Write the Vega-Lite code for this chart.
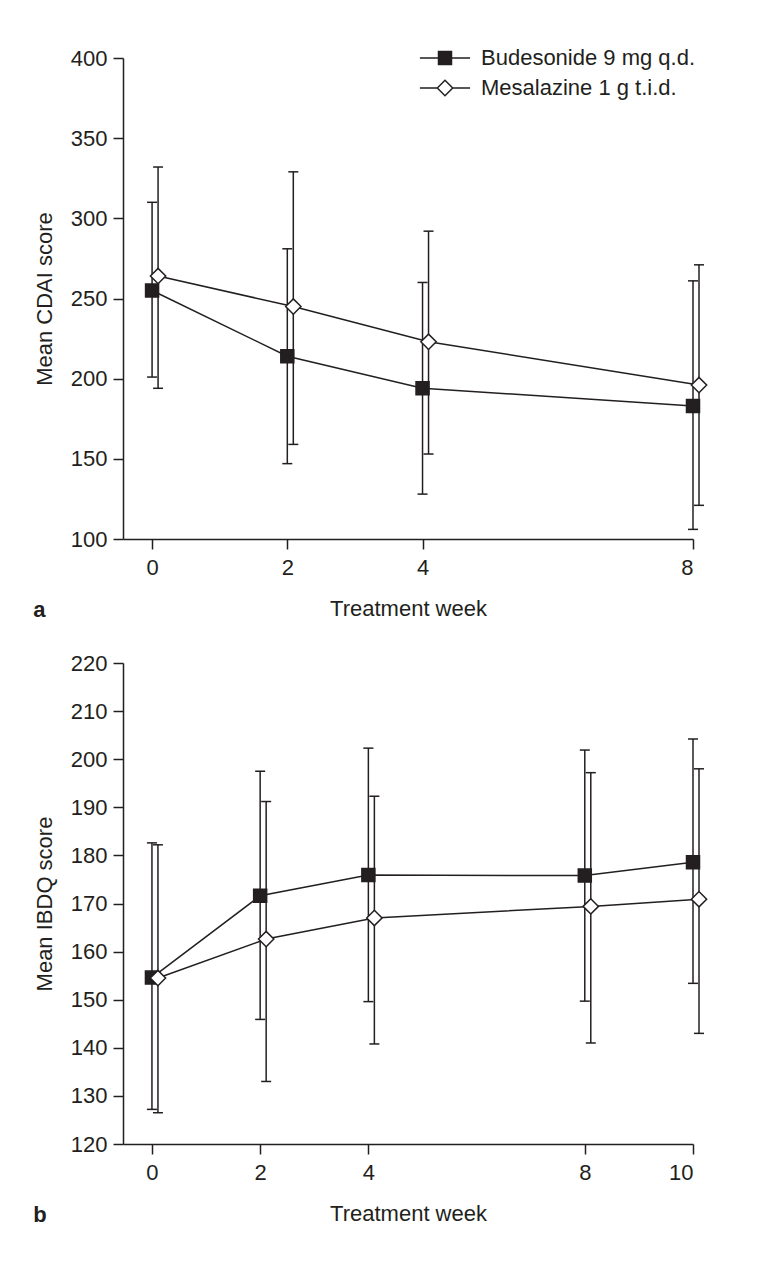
{
  "$schema": "https://vega.github.io/schema/vega-lite/v6.json",
  "background": "white",
  "padding": {"left": 33, "top": 47, "right": 10, "bottom": 10},
  "config": {
    "font": "Liberation Sans",
    "view": {"stroke": null},
    "axis": {
      "domainColor": "#231f20", "domainWidth": 1.5,
      "tickColor": "#231f20", "tickWidth": 1.5, "tickSize": 10,
      "labelFont": "Liberation Sans", "labelFontSize": 22, "labelColor": "#231f20", "labelPadding": 6,
      "titleFont": "Liberation Sans", "titleFontSize": 22, "titleFontWeight": "normal", "titleColor": "#231f20",
      "grid": false
    },
    "axisX": {"labelPadding": 8, "titlePadding": 20},
    "legend": {
      "labelFont": "Liberation Sans", "labelFontSize": 22, "labelColor": "#231f20", "labelLimit": 400,
      "symbolStrokeWidth": 1.5, "symbolOpacity": 1
    },
    "title": {"font": "Liberation Sans", "color": "#231f20"},
    "concat": {"spacing": 31}
  },
  "datasets": {
    "cdai": [
      {"week": 0, "group": "Budesonide 9 mg q.d.", "mean": 255, "lo": 201, "hi": 310},
      {"week": 2, "group": "Budesonide 9 mg q.d.", "mean": 214, "lo": 147, "hi": 281},
      {"week": 4, "group": "Budesonide 9 mg q.d.", "mean": 194, "lo": 128, "hi": 260},
      {"week": 8, "group": "Budesonide 9 mg q.d.", "mean": 183, "lo": 106, "hi": 261},
      {"week": 0, "group": "Mesalazine 1 g t.i.d.", "mean": 264, "lo": 194, "hi": 332},
      {"week": 2, "group": "Mesalazine 1 g t.i.d.", "mean": 245, "lo": 159, "hi": 329},
      {"week": 4, "group": "Mesalazine 1 g t.i.d.", "mean": 223, "lo": 153, "hi": 292},
      {"week": 8, "group": "Mesalazine 1 g t.i.d.", "mean": 196, "lo": 121, "hi": 271}
    ],
    "ibdq": [
      {"week": 0, "group": "Budesonide 9 mg q.d.", "mean": 154.6, "lo": 127.2, "hi": 182.6},
      {"week": 2, "group": "Budesonide 9 mg q.d.", "mean": 171.6, "lo": 145.9, "hi": 197.5},
      {"week": 4, "group": "Budesonide 9 mg q.d.", "mean": 175.9, "lo": 149.6, "hi": 202.3},
      {"week": 8, "group": "Budesonide 9 mg q.d.", "mean": 175.8, "lo": 149.7, "hi": 201.9},
      {"week": 10, "group": "Budesonide 9 mg q.d.", "mean": 178.6, "lo": 153.4, "hi": 204.2},
      {"week": 0, "group": "Mesalazine 1 g t.i.d.", "mean": 154.5, "lo": 126.5, "hi": 182.2},
      {"week": 2, "group": "Mesalazine 1 g t.i.d.", "mean": 162.6, "lo": 133, "hi": 191.2},
      {"week": 4, "group": "Mesalazine 1 g t.i.d.", "mean": 167, "lo": 140.8, "hi": 192.3},
      {"week": 8, "group": "Mesalazine 1 g t.i.d.", "mean": 169.4, "lo": 141, "hi": 197.2},
      {"week": 10, "group": "Mesalazine 1 g t.i.d.", "mean": 170.9, "lo": 143, "hi": 198}
    ]
  },
  "vconcat": [
    {
      "width": 570,
      "height": 481,
      "data": {"name": "cdai"},
      "title": {"text": "a", "orient": "bottom", "anchor": "start", "fontWeight": "bold", "fontSize": 22, "offset": -19},
      "encoding": {
        "x": {
          "field": "week", "type": "quantitative",
          "scale": {"domain": [-0.43, 8], "nice": false, "zero": false},
          "axis": {"values": [0, 2, 4, 8], "title": "Treatment week"}
        }
      },
      "layer": [
        {
          "mark": {"type": "rule", "color": "#231f20", "strokeWidth": 1.5, "xOffset": {"expr": "datum.group === 'Mesalazine 1 g t.i.d.' ? 6 : 0"}},
          "encoding": {
            "y": {"field": "lo", "type": "quantitative", "title": "Mean CDAI score",
                  "scale": {"domain": [100, 400], "nice": false, "zero": false},
                  "axis": {"values": [100, 150, 200, 250, 300, 350, 400], "titlePadding": 14}},
            "y2": {"field": "hi"}
          }
        },
        {
          "mark": {"type": "tick", "orient": "horizontal", "size": 10, "thickness": 1.5, "color": "#231f20", "opacity": 1, "xOffset": {"expr": "datum.group === 'Mesalazine 1 g t.i.d.' ? 6 : 0"}},
          "encoding": {"y": {"field": "hi", "type": "quantitative", "title": "Mean CDAI score"}}
        },
        {
          "mark": {"type": "tick", "orient": "horizontal", "size": 10, "thickness": 1.5, "color": "#231f20", "opacity": 1, "xOffset": {"expr": "datum.group === 'Mesalazine 1 g t.i.d.' ? 6 : 0"}},
          "encoding": {"y": {"field": "lo", "type": "quantitative", "title": "Mean CDAI score"}}
        },
        {
          "mark": {"type": "line", "color": "#231f20", "strokeWidth": 1.5, "xOffset": {"expr": "datum.group === 'Mesalazine 1 g t.i.d.' ? 6 : 0"}},
          "encoding": {
            "y": {"field": "mean", "type": "quantitative", "title": "Mean CDAI score"},
            "detail": {"field": "group"}
          }
        },
        {
          "transform": [{"filter": "datum.group === 'Budesonide 9 mg q.d.'"}],
          "mark": {"type": "point", "shape": "square", "filled": true, "size": 169, "fill": "#231f20", "stroke": "#231f20", "strokeWidth": 1.5, "opacity": 1},
          "encoding": {"y": {"field": "mean", "type": "quantitative", "title": "Mean CDAI score"}}
        },
        {
          "transform": [{"filter": "datum.group === 'Mesalazine 1 g t.i.d.'"}],
          "mark": {"type": "point", "shape": "M-1.18,0L0,-1.18L1.18,0L0,1.18Z", "filled": true, "size": 169, "fill": "white", "stroke": "#231f20", "strokeWidth": 1.5, "opacity": 1, "xOffset": 6},
          "encoding": {"y": {"field": "mean", "type": "quantitative", "title": "Mean CDAI score"}}
        },
        {
          "transform": [{"filter": "false"}],
          "mark": {"type": "point", "filled": true, "size": 169, "stroke": "#231f20", "strokeWidth": 1.5, "opacity": 1},
          "encoding": {
            "y": {"field": "mean", "type": "quantitative", "title": "Mean CDAI score"},
            "fill": {"field": "group", "type": "nominal",
                     "scale": {"domain": ["Budesonide 9 mg q.d.", "Mesalazine 1 g t.i.d."], "range": ["#231f20", "white"]},
                     "legend": {"orient": "none", "legendX": 311, "legendY": -11, "title": null, "labelOffset": 25, "rowPadding": 8, "symbolSize": 169,
                                "encoding": {"symbols": {"stroke": {"value": "#231f20"}, "strokeWidth": {"value": 1.5}}}}},
            "shape": {"field": "group", "type": "nominal",
                      "scale": {"domain": ["Budesonide 9 mg q.d.", "Mesalazine 1 g t.i.d."], "range": ["M-3.86,0H-1M1,0H3.86M-1,-1H1V1H-1Z", "M-3.86,0H-1.18M1.18,0H3.86M-1.18,0L0,-1.18L1.18,0L0,1.18Z"]},
                      "legend": {"orient": "none", "legendX": 311, "legendY": -11, "title": null, "labelOffset": 25, "rowPadding": 8, "symbolSize": 169,
                                 "encoding": {"symbols": {"stroke": {"value": "#231f20"}, "strokeWidth": {"value": 1.5}}}}}
          }
        }
      ]
    },
    {
      "width": 570,
      "height": 481,
      "data": {"name": "ibdq"},
      "title": {"text": "b", "orient": "bottom", "anchor": "start", "fontWeight": "bold", "fontSize": 22, "offset": -19},
      "encoding": {
        "x": {
          "field": "week", "type": "quantitative",
          "scale": {"domain": [-0.535, 10], "nice": false, "zero": false},
          "axis": {"values": [0, 2, 4, 8, 10], "title": "Treatment week"}
        }
      },
      "layer": [
        {
          "mark": {"type": "rule", "color": "#231f20", "strokeWidth": 1.5, "xOffset": {"expr": "datum.group === 'Mesalazine 1 g t.i.d.' ? 6 : 0"}},
          "encoding": {
            "y": {"field": "lo", "type": "quantitative", "title": "Mean IBDQ score",
                  "scale": {"domain": [120, 220], "nice": false, "zero": false},
                  "axis": {"values": [120, 130, 140, 150, 160, 170, 180, 190, 200, 210, 220], "titlePadding": 14}},
            "y2": {"field": "hi"}
          }
        },
        {
          "mark": {"type": "tick", "orient": "horizontal", "size": 10, "thickness": 1.5, "color": "#231f20", "opacity": 1, "xOffset": {"expr": "datum.group === 'Mesalazine 1 g t.i.d.' ? 6 : 0"}},
          "encoding": {"y": {"field": "hi", "type": "quantitative", "title": "Mean IBDQ score"}}
        },
        {
          "mark": {"type": "tick", "orient": "horizontal", "size": 10, "thickness": 1.5, "color": "#231f20", "opacity": 1, "xOffset": {"expr": "datum.group === 'Mesalazine 1 g t.i.d.' ? 6 : 0"}},
          "encoding": {"y": {"field": "lo", "type": "quantitative", "title": "Mean IBDQ score"}}
        },
        {
          "mark": {"type": "line", "color": "#231f20", "strokeWidth": 1.5, "xOffset": {"expr": "datum.group === 'Mesalazine 1 g t.i.d.' ? 6 : 0"}},
          "encoding": {
            "y": {"field": "mean", "type": "quantitative", "title": "Mean IBDQ score"},
            "detail": {"field": "group"}
          }
        },
        {
          "transform": [{"filter": "datum.group === 'Budesonide 9 mg q.d.'"}],
          "mark": {"type": "point", "shape": "square", "filled": true, "size": 169, "fill": "#231f20", "stroke": "#231f20", "strokeWidth": 1.5, "opacity": 1},
          "encoding": {"y": {"field": "mean", "type": "quantitative", "title": "Mean IBDQ score"}}
        },
        {
          "transform": [{"filter": "datum.group === 'Mesalazine 1 g t.i.d.'"}],
          "mark": {"type": "point", "shape": "M-1.18,0L0,-1.18L1.18,0L0,1.18Z", "filled": true, "size": 169, "fill": "white", "stroke": "#231f20", "strokeWidth": 1.5, "opacity": 1, "xOffset": 6},
          "encoding": {"y": {"field": "mean", "type": "quantitative", "title": "Mean IBDQ score"}}
        }
      ]
    }
  ]
}
